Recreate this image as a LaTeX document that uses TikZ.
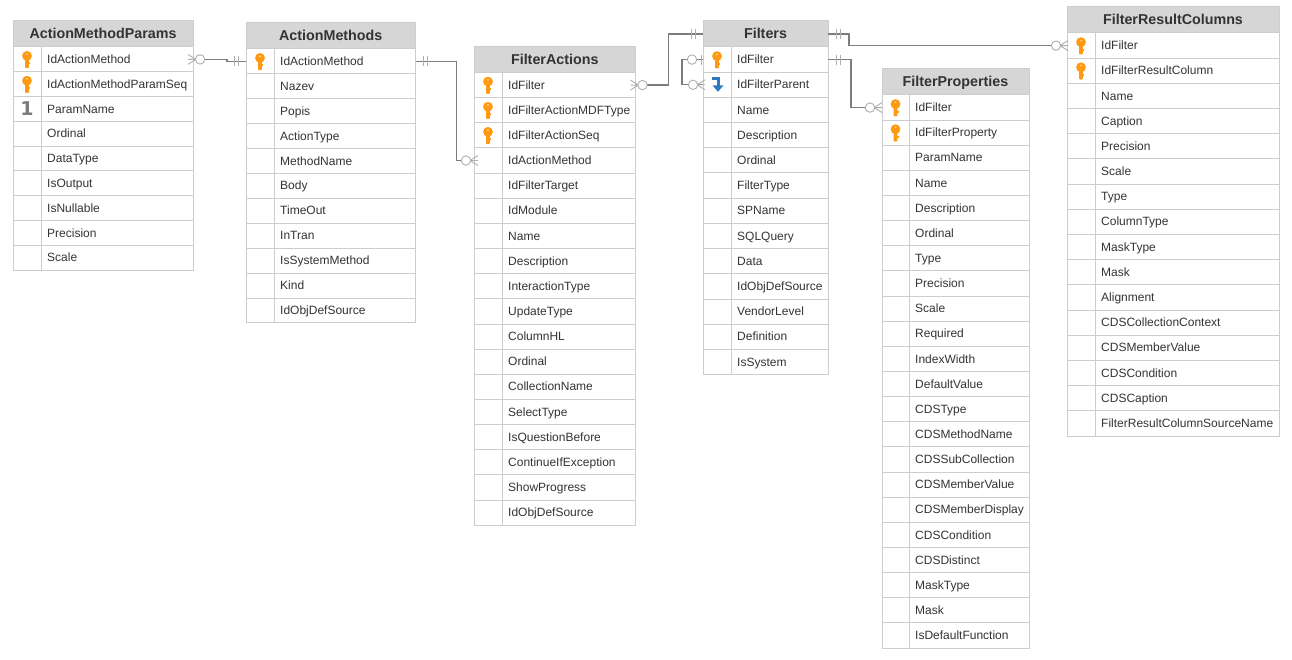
\documentclass[tikz,border=0pt]{standalone}
\usepackage{fontspec}
\setmainfont{Liberation Sans}
\newfontfamily\digitfont{DejaVu Sans}
\usetikzlibrary{calc,positioning}
\definecolor{mygrid}{RGB}{204,206,206}
\definecolor{myhead}{RGB}{214,214,214}
\definecolor{mytext}{RGB}{51,51,51}
\definecolor{myline}{RGB}{125,125,125}
\definecolor{mymark}{RGB}{175,175,175}
\definecolor{mykey}{RGB}{255,153,15}
\definecolor{myfk}{RGB}{46,122,190}
\tikzset{
    line/.style     = {draw=myline, line width=1.2pt},
    markline/.style = {draw=mymark, line width=0.9pt},
    titlebox/.style = {draw=mygrid, fill=myhead, line width=1pt, anchor=north west,
            minimum height=26pt, inner sep=0pt, outer sep=0pt, text=mytext,
            text height=10pt, text depth=0pt,
            font=\fontsize{14.3}{16}\selectfont\bfseries},
    rowbox/.style   = {draw=mygrid, line width=1pt, anchor=north west,
            inner sep=0pt, outer sep=0pt},
    rowtext/.style  = {anchor=west, inner sep=0pt, text=mytext, yshift=-0.8pt,
            text height=9pt, text depth=2.5pt, font=\fontsize{12}{14}\selectfont},
    pics/blank/.style = {code={}},
    pics/keyicon/.style = {code={
            \fill[mykey] (0,-3.5) circle (4.9);
            \fill[mykey, rounded corners=1pt] (-1.9,-1) rectangle (1.9,8.8);
            \fill[mykey] (1.9,3) rectangle (3.4,5);
            \fill[white!60!mykey] (0,-5.2) circle (1);
    }},
    pics/fkicon/.style = {code={
            \draw[myfk, line width=3pt] (-5.5,-6.5) -- (1,-6.5) -- (1,1);
            \fill[myfk] (-4.5,0.5) -- (6.5,0.5) -- (1,7) -- cycle;
    }},
    pics/oneicon/.style = {code={
            \node[inner sep=0pt, text=myline, font=\fontsize{19}{19}\digitfont\bfseries] (digit) {1};
    }},
    pics/barsmark/.style = {code={
            \draw[markline] (8,-5) -- (8,5) (12,-5) -- (12,5);
    }},
    pics/crowmark/.style = {code={
            \draw[markline] (-5,-5) -- (3,0) (-5,5) -- (3,0) (-5,0) -- (3,0);
            \draw[markline, fill=white] (7,0) circle (4.7);
    }},
    pics/zeroonemark/.style = {code={
            \draw[markline] (2,-5) -- (2,5);
            \draw[markline, fill=white] (11,0) circle (4.7);
    }},
}
% name, x, y, width, icon column, row height, title, rows
\newcommand{\dbtable}[8]{
    \node[titlebox, minimum width=#4] (#1) at (#2,#3) {#7};
    \foreach \ico/\txt [count=\n] in {#8}{
        \node[rowbox, minimum width=#4, minimum height=#6, yshift={-(\n-1)*#6}] (#1-\n) at (#1.south west) {};
        \draw[draw=mygrid, line width=1pt] ([xshift=#5]#1-\n.north west) -- ([xshift=#5]#1-\n.south west);
        \node[rowtext, xshift={#5+6}] (#1-\n-txt) at (#1-\n.west) {\txt};
        \pic at ([xshift={#5/2}]#1-\n.west) {\ico};
    }
}

\begin{document}
\begin{tikzpicture}[x=1pt, y=-1pt]
    \useasboundingbox (0,0) rectangle (1292,660);

    % Tables
    \dbtable{params}{13}{21}{180}{28}{24.8}{ActionMethodParams}{keyicon/IdActionMethod, keyicon/IdActionMethodParamSeq, oneicon/ParamName, blank/Ordinal, blank/DataType, blank/IsOutput, blank/IsNullable, blank/Precision, blank/Scale}
    \dbtable{methods}{246}{23}{169.5}{28}{24.9}{ActionMethods}{keyicon/IdActionMethod, blank/Nazev, blank/Popis, blank/ActionType, blank/MethodName, blank/Body, blank/TimeOut, blank/InTran, blank/IsSystemMethod, blank/Kind, blank/IdObjDefSource}
    \dbtable{actions}{474}{46.5}{161.5}{28}{25.15}{FilterActions}{keyicon/IdFilter, keyicon/IdFilterActionMDFType, keyicon/IdFilterActionSeq, blank/IdActionMethod, blank/IdFilterTarget, blank/IdModule, blank/Name, blank/Description, blank/InteractionType, blank/UpdateType, blank/ColumnHL, blank/Ordinal, blank/CollectionName, blank/SelectType, blank/IsQuestionBefore, blank/ContinueIfException, blank/ShowProgress, blank/IdObjDefSource}
    \dbtable{filters}{703}{21}{125}{28}{25.2}{Filters}{keyicon/IdFilter, fkicon/IdFilterParent, blank/Name, blank/Description, blank/Ordinal, blank/FilterType, blank/SPName, blank/SQLQuery, blank/Data, blank/IdObjDefSource, blank/VendorLevel, blank/Definition, blank/IsSystem}
    \dbtable{props}{882}{69}{147}{27}{25.14}{FilterProperties}{keyicon/IdFilter, keyicon/IdFilterProperty, blank/ParamName, blank/Name, blank/Description, blank/Ordinal, blank/Type, blank/Precision, blank/Scale, blank/Required, blank/IndexWidth, blank/DefaultValue, blank/CDSType, blank/CDSMethodName, blank/CDSSubCollection, blank/CDSMemberValue, blank/CDSMemberDisplay, blank/CDSCondition, blank/CDSDistinct, blank/MaskType, blank/Mask, blank/IsDefaultFunction}
    \dbtable{columns}{1067}{7}{212}{28}{25.19}{FilterResultColumns}{keyicon/IdFilter, keyicon/IdFilterResultColumn, blank/Name, blank/Caption, blank/Precision, blank/Scale, blank/Type, blank/ColumnType, blank/MaskType, blank/Mask, blank/Alignment, blank/CDSCollectionContext, blank/CDSMemberValue, blank/CDSCondition, blank/CDSCaption, blank/FilterResultColumnSourceName}

    % Connectors
    \coordinate (bumpA) at ($(params-1.east)+(34,0)$);
    \draw[line] (params-1.east) -- (bumpA) |- (methods-1.west);
    \coordinate (bumpB) at ($(methods-1.east)+(41,0)$);
    \draw[line] (methods-1.east) -- (bumpB) |- (actions-4.west);
    \coordinate (bumpC) at ($(actions-1.east)+(33,0)$);
    \draw[line] (actions-1.east) -- (bumpC) |- (filters.west);
    \coordinate (bumpD) at ($(filters-1.west)+(-21,0)$);
    \draw[line] (filters-1.west) -- (bumpD) |- (filters-2.west);
    \coordinate (bumpE) at ($(filters.east)+(21,0)$);
    \draw[line] (filters.east) -- (bumpE) |- (columns-1.west);
    \coordinate (bumpF) at ($(filters-1.east)+(23,0)$);
    \draw[line] (filters-1.east) -- (bumpF) |- (props-1.west);

    % Ends of the connectors
    \pic at (params-1.east) {crowmark};
    \pic[xscale=-1] at (methods-1.west) {barsmark};
    \pic at (methods-1.east) {barsmark};
    \pic[xscale=-1] at ([xshift=-1pt]actions-4.west) {crowmark};
    \pic at (actions-1.east) {crowmark};
    \pic[xscale=-1] at (filters.west) {barsmark};
    \pic[xscale=-1] at (filters-1.west) {zeroonemark};
    \pic[xscale=-1] at ([xshift=-3pt]filters-2.west) {crowmark};
    \pic at (filters.east) {barsmark};
    \pic[xscale=-1] at ([xshift=-4pt]columns-1.west) {crowmark};
    \pic at (filters-1.east) {barsmark};
    \pic[xscale=-1] at ([xshift=-5pt]props-1.west) {crowmark};
\end{tikzpicture}
\end{document}
